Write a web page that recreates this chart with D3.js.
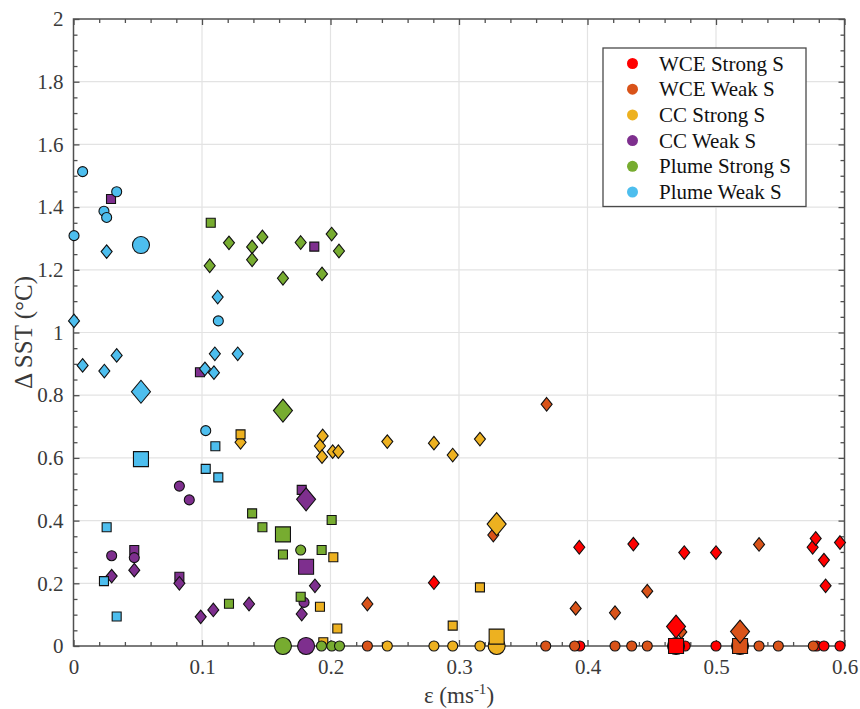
<!DOCTYPE html>
<html>
<head>
<meta charset="utf-8">
<script src="https://cdn.jsdelivr.net/npm/d3@7"></script>
<style>
  body { margin: 0; background: #fff; }
  svg text { font-family: "Liberation Serif", "Times New Roman", serif; }
</style>
</head>
<body>
<div id="chart"></div>
<script>
// series names, in legend order
var seriesNames = ['WCE Strong S', 'WCE Weak S', 'CC Strong S', 'CC Weak S', 'Plume Strong S', 'Plume Weak S'];
var seriesColors = ['#ff0000', '#d95319', '#edb120', '#7e2f8e', '#77ac30', '#4dbeee'];

// points: [epsilon, dSST, marker, mean?]  marker o = circle, s = square, d = diamond
var wceStrong = [
    [0.3936, 0.315, 'd'], [0.4357, 0.325, 'd'], [0.4753, 0.298, 'd'], [0.500, 0.298, 'd'],
    [0.5752, 0.315, 'd'], [0.5776, 0.343, 'd'], [0.584, 0.274, 'd'], [0.5965, 0.330, 'd'],
    [0.5853, 0.192, 'd'], [0.2805, 0.202, 'd'],
    [0.394, 0, 'o'], [0.476, 0, 'o'], [0.500, 0, 'o'], [0.5784, 0, 'o'], [0.584, 0, 'o'], [0.5965, 0, 'o'],
    [0.4689, 0, 'o', 1], [0.4689, 0, 's', 1], [0.4689, 0.062, 'd', 1]
];
var wceWeak = [
    [0.3682, 0.771, 'd'], [0.3267, 0.354, 'd'], [0.2287, 0.134, 'd'], [0.5335, 0.324, 'd'],
    [0.4465, 0.175, 'd'], [0.3908, 0.120, 'd'], [0.4214, 0.106, 'd'], [0.473, 0.045, 'd'],
    [0.2287, 0, 'o'], [0.3675, 0, 'o'], [0.390, 0, 'o'], [0.4214, 0, 'o'], [0.4344, 0, 'o'],
    [0.4465, 0, 'o'], [0.5335, 0, 'o'], [0.5485, 0, 'o'], [0.5757, 0, 'o'],
    [0.5187, 0, 'o', 1], [0.5187, 0, 's', 1], [0.5187, 0.046, 'd', 1]
];
var ccStrong = [
    [0.130, 0.650, 'd'], [0.1939, 0.670, 'd'], [0.1918, 0.638, 'd'], [0.1934, 0.604, 'd'],
    [0.2017, 0.620, 'd'], [0.2061, 0.620, 'd'], [0.2442, 0.652, 'd'], [0.2805, 0.647, 'd'],
    [0.2951, 0.609, 'd'], [0.3163, 0.660, 'd'],
    [0.130, 0.675, 's'], [0.2022, 0.283, 's'], [0.1918, 0.125, 's'], [0.2053, 0.056, 's'],
    [0.1944, 0.012, 's'], [0.3163, 0.187, 's'], [0.2951, 0.065, 's'],
    [0.2442, 0, 'o'], [0.2805, 0, 'o'], [0.2951, 0, 'o'], [0.3163, 0, 'o'],
    [0.3293, 0, 'o', 1], [0.3293, 0.030, 's', 1], [0.3293, 0.389, 'd', 1]
];
var ccWeak = [
    [0.0292, 1.426, 's'], [0.1874, 1.274, 's'], [0.0984, 0.873, 's'], [0.1776, 0.498, 's'],
    [0.0473, 0.306, 's'], [0.0824, 0.221, 's'],
    [0.0824, 0.510, 'o'], [0.0901, 0.466, 'o'], [0.0297, 0.288, 'o'], [0.0473, 0.282, 'o'], [0.1794, 0.139, 'o'],
    [0.0473, 0.242, 'd'], [0.0297, 0.223, 'd'], [0.0824, 0.200, 'd'], [0.099, 0.093, 'd'],
    [0.1088, 0.115, 'd'], [0.1366, 0.134, 'd'], [0.1879, 0.192, 'd'], [0.1776, 0.102, 'd'],
    [0.181, 0, 'o', 1], [0.181, 0.253, 's', 1], [0.181, 0.468, 'd', 1]
];
var plumeStrong = [
    [0.1068, 1.350, 's'], [0.139, 0.423, 's'], [0.147, 0.379, 's'], [0.2009, 0.402, 's'],
    [0.163, 0.292, 's'], [0.1931, 0.306, 's'], [0.1768, 0.157, 's'], [0.121, 0.135, 's'],
    [0.121, 1.286, 'd'], [0.139, 1.273, 'd'], [0.147, 1.305, 'd'], [0.1768, 1.287, 'd'],
    [0.2009, 1.314, 'd'], [0.2066, 1.260, 'd'], [0.139, 1.232, 'd'], [0.106, 1.213, 'd'],
    [0.163, 1.173, 'd'], [0.1934, 1.187, 'd'],
    [0.1768, 0.306, 'o'], [0.193, 0, 'o'], [0.201, 0, 'o'], [0.207, 0, 'o'],
    [0.163, 0, 'o', 1], [0.163, 0.356, 's', 1], [0.163, 0.751, 'd', 1]
];
var plumeWeak = [
    [0.0071, 1.513, 'o'], [0.0336, 1.449, 'o'], [0.0237, 1.387, 'o'], [0.0258, 1.367, 'o'],
    [0.0004, 1.309, 'o'], [0.1127, 1.037, 'o'], [0.1029, 0.687, 'o'],
    [0.0258, 1.258, 'd'], [0.1122, 1.113, 'd'], [0.0004, 1.037, 'd'], [0.0071, 0.895, 'd'],
    [0.024, 0.877, 'd'], [0.0336, 0.927, 'd'], [0.110, 0.932, 'd'], [0.1278, 0.932, 'd'],
    [0.1023, 0.884, 'd'], [0.1093, 0.872, 'd'],
    [0.1104, 0.637, 's'], [0.1029, 0.565, 's'], [0.1127, 0.538, 's'], [0.0258, 0.379, 's'],
    [0.0237, 0.207, 's'], [0.0336, 0.094, 's'],
    [0.0525, 1.279, 'o', 1], [0.0525, 0.596, 's', 1], [0.0525, 0.811, 'd', 1]
];
var allSeries = [wceStrong, wceWeak, ccStrong, ccWeak, plumeStrong, plumeWeak];

var xTicks = [0, 0.1, 0.2, 0.3, 0.4, 0.5, 0.6];
var yTicks = [0, 0.2, 0.4, 0.6, 0.8, 1, 1.2, 1.4, 1.6, 1.8, 2];

var width = 860, height = 709;
var plotLeft = 73.5, plotRight = 844.5, plotTop = 19, plotBottom = 646;
var axisColor = '#505050';
var serif = '"Liberation Serif", "Times New Roman", serif';

var svg = d3.select('#chart').append('svg')
    .attr('width', width)
    .attr('height', height)
    .style('display', 'block');

var x = d3.scaleLinear().domain([0, 0.6]).range([plotLeft, plotRight]);
var y = d3.scaleLinear().domain([0, 2]).range([plotBottom, plotTop]);

// grid
var grid = svg.append('g').attr('class', 'grid');
grid.selectAll('.gx')
    .data(xTicks.slice(1, -1))
    .enter().append('line')
    .attr('x1', function(d) { return x(d); })
    .attr('x2', function(d) { return x(d); })
    .attr('y1', plotTop).attr('y2', plotBottom)
    .attr('stroke', '#e3e3e3').attr('stroke-width', 1.2);
grid.selectAll('.gy')
    .data(yTicks.slice(1, -1))
    .enter().append('line')
    .attr('y1', function(d) { return y(d); })
    .attr('y2', function(d) { return y(d); })
    .attr('x1', plotLeft).attr('x2', plotRight)
    .attr('stroke', '#e3e3e3').attr('stroke-width', 1.2);

// minor tick values
var xMinor = d3.range(0, 0.6001, 0.02).filter(function(v) { return Math.abs(v * 10 - Math.round(v * 10)) > 1e-6; });
var yMinor = d3.range(0, 2.0001, 0.05).filter(function(v) { return Math.abs(v * 5 - Math.round(v * 5)) > 1e-6; });

function styleAxis(g) {
    g.attr('font-family', serif).attr('font-size', 21);
    g.select('.domain').remove();
    g.selectAll('line').attr('stroke', axisColor).attr('stroke-width', 1.3);
    g.selectAll('text')
        .attr('fill', '#3a3a3a')
        .attr('font-family', serif)
        .attr('font-size', 21);
}

// bottom axis with labels
svg.append('g')
    .attr('transform', 'translate(0,' + plotBottom + ')')
    .call(d3.axisBottom(x).tickValues(xTicks).tickSize(-6).tickPadding(13)
        .tickFormat(function(d) { return d3.format('')(d); }))
    .call(styleAxis);
svg.append('g')
    .attr('transform', 'translate(0,' + plotBottom + ')')
    .call(d3.axisBottom(x).tickValues(xMinor).tickSize(-4).tickFormat(''))
    .call(styleAxis);
// top axis
svg.append('g')
    .attr('transform', 'translate(0,' + plotTop + ')')
    .call(d3.axisTop(x).tickValues(xTicks).tickSize(-6).tickFormat(''))
    .call(styleAxis);
svg.append('g')
    .attr('transform', 'translate(0,' + plotTop + ')')
    .call(d3.axisTop(x).tickValues(xMinor).tickSize(-4).tickFormat(''))
    .call(styleAxis);
// left axis
svg.append('g')
    .attr('transform', 'translate(' + plotLeft + ',0)')
    .call(d3.axisLeft(y).tickValues(yTicks).tickSize(-6).tickPadding(10)
        .tickFormat(function(d) { return d3.format('')(d); }))
    .call(styleAxis);
svg.append('g')
    .attr('transform', 'translate(' + plotLeft + ',0)')
    .call(d3.axisLeft(y).tickValues(yMinor).tickSize(-4).tickFormat(''))
    .call(styleAxis);
// right axis
svg.append('g')
    .attr('transform', 'translate(' + plotRight + ',0)')
    .call(d3.axisRight(y).tickValues(yTicks).tickSize(-6).tickFormat(''))
    .call(styleAxis);
svg.append('g')
    .attr('transform', 'translate(' + plotRight + ',0)')
    .call(d3.axisRight(y).tickValues(yMinor).tickSize(-4).tickFormat(''))
    .call(styleAxis);

// box
svg.append('rect')
    .attr('x', plotLeft).attr('y', plotTop)
    .attr('width', plotRight - plotLeft).attr('height', plotBottom - plotTop)
    .attr('fill', 'none')
    .attr('stroke', axisColor)
    .attr('stroke-width', 1.5);

// markers
function markerPath(m, big) {
    var p = d3.path();
    if (m === 'o') {
        var r = big ? 8.5 : 5;
        p.arc(0, 0, r, 0, 2 * Math.PI);
    } else if (m === 's') {
        var h = big ? 7.5 : 4.5;
        p.rect(-h, -h, 2 * h, 2 * h);
    } else {
        var w = big ? 9.5 : 5.5, t = big ? 11.5 : 6.8;
        p.moveTo(0, -t); p.lineTo(w, 0); p.lineTo(0, t); p.lineTo(-w, 0); p.closePath();
    }
    return p.toString();
}

var pts = [];
allSeries.forEach(function(s, i) {
    s.forEach(function(d) {
        pts.push({ x: d[0], y: d[1], m: d[2], big: !!d[3], c: seriesColors[i] });
    });
});
// means on top of case points
pts.sort(function(a, b) { return a.big - b.big; });

svg.append('g').attr('class', 'points')
    .selectAll('path')
    .data(pts)
    .enter().append('path')
    .attr('transform', function(d) { return 'translate(' + x(d.x) + ',' + y(d.y) + ')'; })
    .attr('d', function(d) { return markerPath(d.m, d.big); })
    .attr('fill', function(d) { return d.c; })
    .attr('stroke', '#111')
    .attr('stroke-width', 1.1);

// axis labels
svg.append('text')
    .attr('transform', 'translate(32,' + ((plotTop + plotBottom) / 2) + ') rotate(-90)')
    .attr('text-anchor', 'middle')
    .attr('fill', '#3a3a3a')
    .attr('font-family', serif)
    .attr('font-size', 25)
    .text('\u0394 SST (\u00b0C)');

var xl = svg.append('text')
    .attr('x', (plotLeft + plotRight) / 2)
    .attr('y', 703)
    .attr('text-anchor', 'middle')
    .attr('fill', '#3a3a3a')
    .attr('font-family', serif)
    .attr('font-size', 23);
xl.append('tspan').text('\u03b5 (ms');
xl.append('tspan').attr('dy', -9).attr('font-size', 15).text('-1');
xl.append('tspan').attr('dy', 9).text(')');

// legend
var legend = svg.append('g').attr('transform', 'translate(603,48)');
legend.append('rect')
    .attr('width', 203).attr('height', 158.5)
    .attr('fill', '#fff')
    .attr('stroke', '#4a4a4a')
    .attr('stroke-width', 1.3);
var item = legend.selectAll('.item')
    .data(seriesNames)
    .enter().append('g')
    .attr('class', 'item')
    .attr('transform', function(d, i) { return 'translate(0,' + (15.5 + i * 25.7) + ')'; });
item.append('circle')
    .attr('cx', 29.5).attr('r', 5.5)
    .attr('fill', function(d, i) { return seriesColors[i]; });
item.append('text')
    .attr('x', 56).attr('y', 7)
    .attr('fill', '#111')
    .attr('font-family', serif)
    .attr('font-size', 21)
    .text(function(d) { return d; });
</script>
</body>
</html>
